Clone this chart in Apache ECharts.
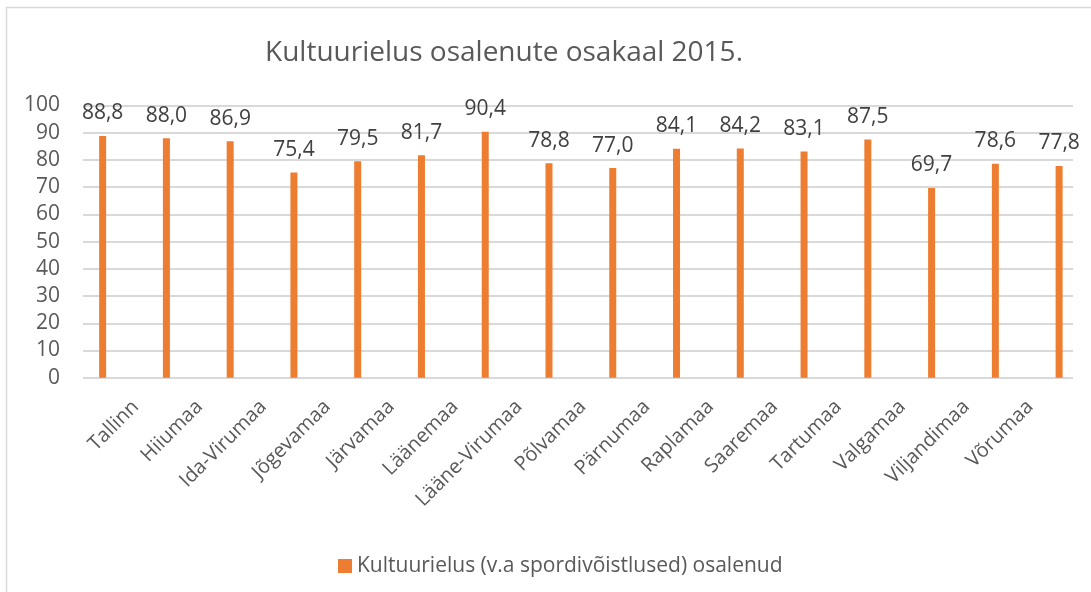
<!DOCTYPE html>
<html>
<head>
<meta charset="utf-8">
<script src="https://cdn.jsdelivr.net/npm/echarts@6/dist/echarts.min.js"></script>
<style>
  html, body { margin: 0; padding: 0; background: #fff; }
  #chart { width: 1091px; height: 592px; }
</style>
</head>
<body>
<div id="chart"></div>
<script>
// andmed
var titleText = 'Kultuurielus osalenute osakaal 2015.';
var seriesName = 'Kultuurielus (v.a spordivõistlused) osalenud';
var regions = ['Tallinn', 'Hiiumaa', 'Ida-Virumaa', 'Jõgevamaa', 'Järvamaa', 'Läänemaa', 'Lääne-Virumaa',
  'Põlvamaa', 'Pärnumaa', 'Raplamaa', 'Saaremaa', 'Tartumaa', 'Valgamaa', 'Viljandimaa', 'Võrumaa'];
// 16 tulpa, 15 silti (nagu originaalis)
var values = [88.8, 88.0, 86.9, 75.4, 79.5, 81.7, 90.4, 78.8, 77.0, 84.1, 84.2, 83.1, 87.5, 69.7, 78.6, 77.8];
var yTicks = [0, 10, 20, 30, 40, 50, 60, 70, 80, 90, 100];

function create_chart() {
  var barKeys = values.map(function (v, i) { return 'b' + i; });
  var font = "'Open Sans', sans-serif";
  var step = 63.89;
  var gridTop = 105.5, gridHeight = 272.2;

  var myChart = echarts.init(document.getElementById('chart'));

  var option = {
    animation: false,
    graphic: [{
      type: 'rect',
      shape: { x: 6.5, y: 7.5, width: 1200, height: 700 },
      style: { fill: 'none', stroke: '#d9d9d9', lineWidth: 1.5 },
      silent: true
    }],
    title: {
      text: titleText,
      left: 499,
      top: 34,
      textAlign: 'center',
      textStyle: { fontFamily: font, fontSize: 28, fontWeight: 'normal', color: '#595959' }
    },
    legend: {
      data: [seriesName],
      left: 333,
      top: 550.5,
      icon: 'rect',
      itemWidth: 14,
      itemHeight: 14,
      textStyle: { fontFamily: font, fontSize: 21, color: '#595959' }
    },
    grid: [
      { left: 83, top: gridTop, width: 990, height: gridHeight },
      { left: 102.7 - step / 2, top: gridTop, width: step * 16, height: gridHeight },
      { left: 103.7, top: gridTop, width: step * 15, height: gridHeight }
    ],
    xAxis: [
      { gridIndex: 0, type: 'value', min: 0, max: 1, show: false },
      { gridIndex: 1, type: 'category', data: barKeys, show: false },
      {
        gridIndex: 2, type: 'category', data: regions,
        axisLine: { show: false }, axisTick: { show: false },
        axisLabel: { rotate: 45, margin: 26, interval: 0, fontFamily: font, fontSize: 20, color: '#595959' }
      }
    ],
    yAxis: [
      {
        gridIndex: 0, type: 'value', min: 0, max: 100, interval: 10,
        axisLine: { show: false }, axisTick: { show: false },
        axisLabel: {
          margin: 23, fontFamily: font, fontSize: 21, color: '#595959',
          padding: [5, 0, 0, 0],
          formatter: function (v) { return yTicks.indexOf(v) >= 0 ? String(v) : ''; }
        },
        splitLine: { lineStyle: { color: '#d9d9d9', width: 2 } }
      },
      { gridIndex: 1, type: 'value', min: 0, max: 100, show: false },
      { gridIndex: 2, type: 'value', min: 0, max: 100, show: false }
    ],
    series: [{
      name: seriesName,
      type: 'bar',
      xAxisIndex: 1,
      yAxisIndex: 1,
      data: values,
      barWidth: 7,
      itemStyle: { color: '#ed7d31' },
      label: {
        show: true,
        position: 'top',
        distance: 12,
        fontFamily: font,
        fontSize: 21,
        color: '#404040',
        formatter: function (p) { return p.value.toFixed(1).replace('.', ','); }
      }
    }]
  };

  myChart.setOption(option);
  return myChart;
}

create_chart();
</script>
</body>
</html>
